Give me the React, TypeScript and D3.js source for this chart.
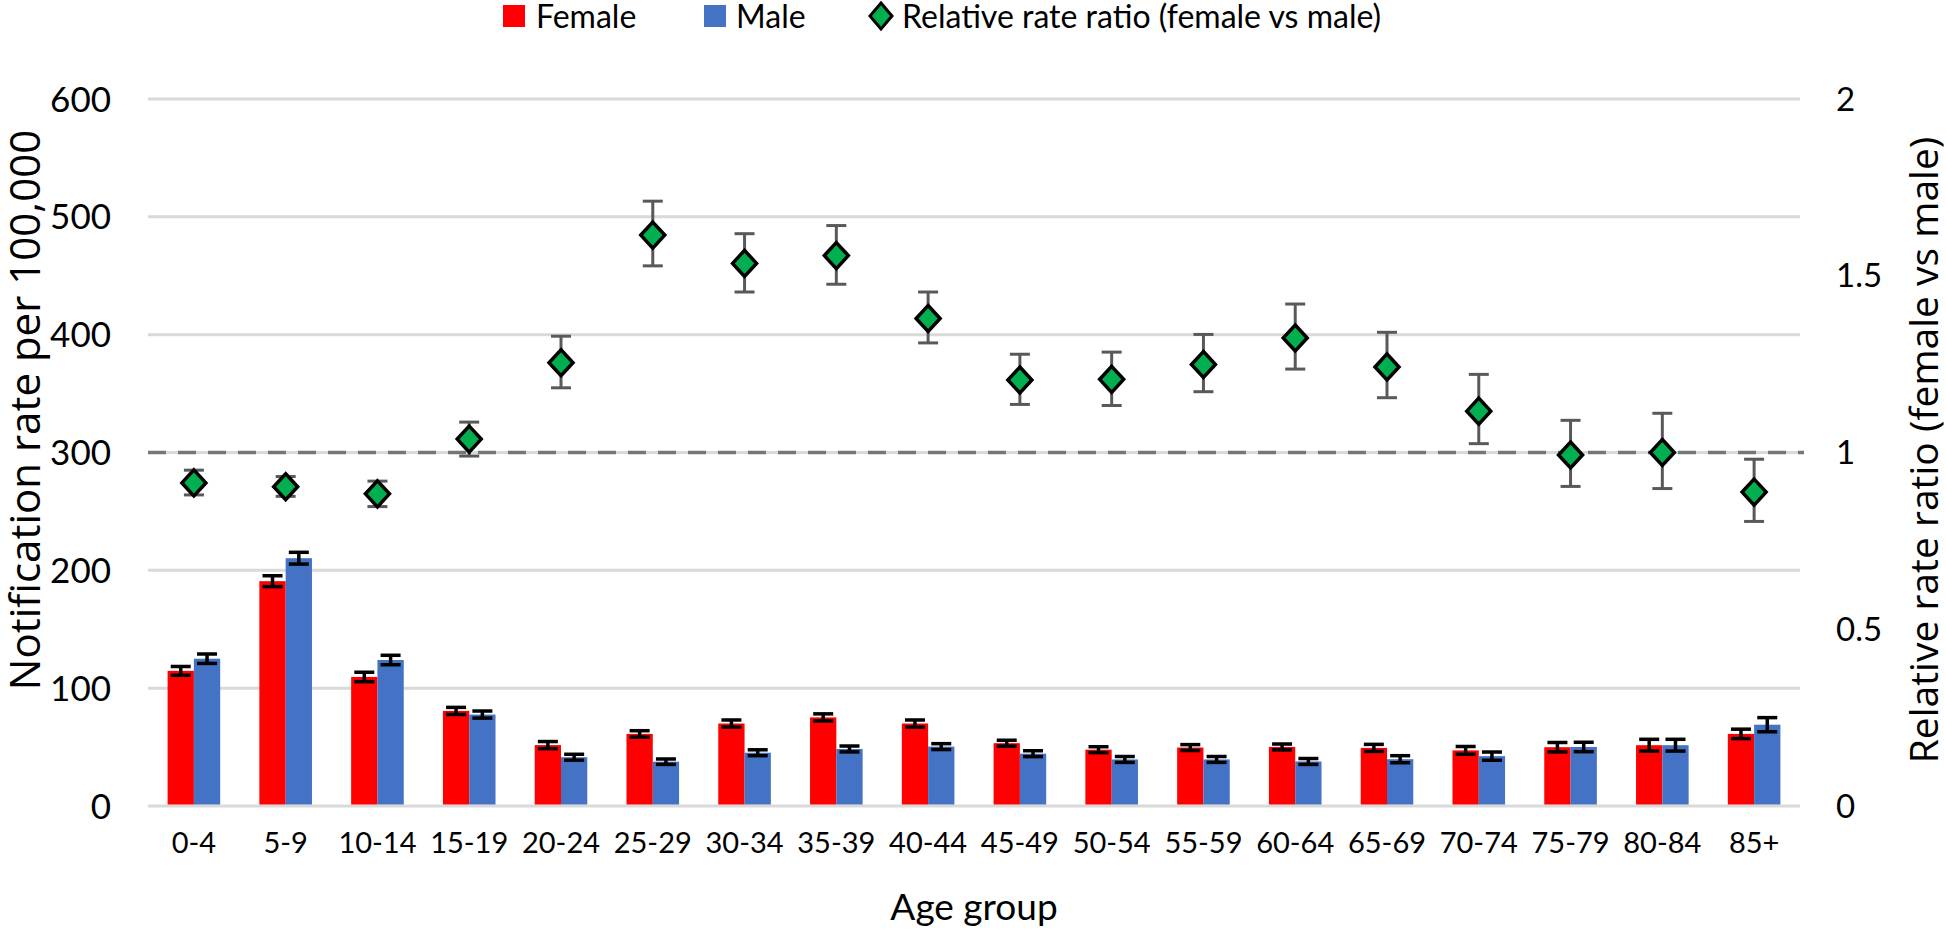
import React from "react";
import * as d3 from "d3";

const categories = ["0-4","5-9","10-14","15-19","20-24","25-29","30-34","35-39","40-44","45-49","50-54","55-59","60-64","65-69","70-74","75-79","80-84","85+"];
const female = [114.7,190.8,109.5,80.7,51.7,61.2,70,75.2,70,53.3,47.8,49.6,50.1,49.3,47.2,49.9,51.6,61.2];
const femaleErr = [3.7,4.6,4,3,3,2.7,3,3,3,2.5,2.5,2.5,2.5,3,3.3,4,5,4];
const male = [125,210.3,123.9,77.6,41.4,37.6,45.2,48.4,50.4,44.4,39.5,39.5,37.8,39.7,42.3,50.1,51.6,69];
const maleErr = [4,5,4,3,2.5,2.3,2.5,2.5,2.5,2.5,2.5,2.5,2.5,3,3.5,4,5,6];
const ratio = [0.914,0.903,0.883,1.038,1.254,1.615,1.535,1.557,1.379,1.205,1.207,1.249,1.324,1.242,1.117,0.993,1.0,0.888];
const ratioLow = [0.88,0.876,0.847,0.99,1.183,1.528,1.454,1.476,1.31,1.136,1.133,1.172,1.236,1.155,1.025,0.904,0.898,0.805];
const ratioHigh = [0.95,0.932,0.919,1.086,1.329,1.711,1.619,1.642,1.454,1.278,1.284,1.334,1.42,1.34,1.221,1.091,1.111,0.981];
const leftTicks = [0,100,200,300,400,500,600];
const rightTicks = [0,0.5,1,1.5,2];
const rightTickLabels = ["0","0.5","1","1.5","2"];
const seriesNames = ["Female","Male","Relative rate ratio (female vs male)"];
const colors = { female: "#ff0000", male: "#4472c4", ratio: "#00b050" };

const W = 1946, H = 931;
const left = 148, right = 1800, top = 99, bottom = 806;
const tickFont = "Lato, 'Open Sans', sans-serif";
const titleFont = "'Open Sans', 'Noto Sans', sans-serif";

export default function App() {
  const pInner = 0.427;
  const x = d3.scaleBand<string>().domain(categories).range([left, right]).paddingInner(pInner).paddingOuter(pInner / 2);
  const sub = d3.scaleBand<string>().domain(["F", "M"]).range([0, x.bandwidth()]);
  const y = d3.scaleLinear().domain([0, 600]).range([bottom, top]);
  const y2 = d3.scaleLinear().domain([0, 2]).range([bottom, top]);
  const bw = sub.bandwidth();
  const cx = (c: string) => (x(c) as number) + x.bandwidth() / 2;

  const errBar = (xc: number, lo: number, hi: number, color: string, sw: number, cap: number, key: string) => (
    <g key={key} stroke={color} strokeWidth={sw}>
      <line x1={xc} x2={xc} y1={lo} y2={hi} />
      <line x1={xc - cap / 2} x2={xc + cap / 2} y1={lo} y2={lo} />
      <line x1={xc - cap / 2} x2={xc + cap / 2} y1={hi} y2={hi} />
    </g>
  );

  const diamond = (xc: number, yc: number, hw: number, hh: number) =>
    `M${xc},${yc - hh}L${xc + hw},${yc}L${xc},${yc + hh}L${xc - hw},${yc}Z`;

  return (
    <svg width={W} height={H} style={{ position: "absolute", left: 0, top: 0, background: "#fff" }}>
      <rect width={W} height={H} fill="#fff" />
      {leftTicks.map((t) => (
        <line key={"g" + t} x1={left} x2={right} y1={y(t)} y2={y(t)} stroke="#d9d9d9" strokeWidth={3} />
      ))}
      <line x1={left} x2={right + 4} y1={y2(1)} y2={y2(1)} stroke="#767676" strokeWidth={3.5} strokeDasharray="18,12" />
      {categories.map((c, i) => {
        const x0 = x(c) as number;
        const xf = x0 + (sub("F") as number);
        const xm = x0 + (sub("M") as number);
        return (
          <g key={"b" + c}>
            <rect x={xf} y={y(female[i])} width={bw} height={y(0) - 1.5 - y(female[i])} fill={colors.female} />
            <rect x={xm} y={y(male[i])} width={bw} height={y(0) - 1.5 - y(male[i])} fill={colors.male} />
            {errBar(xf + bw / 2, y(female[i] - femaleErr[i]), y(female[i] + femaleErr[i]), "#000", 3.5, 20, "ef" + i)}
            {errBar(xm + bw / 2, y(male[i] - maleErr[i]), y(male[i] + maleErr[i]), "#000", 3.5, 20, "em" + i)}
          </g>
        );
      })}
      {categories.map((c, i) => errBar(cx(c), y2(ratioLow[i]), y2(ratioHigh[i]), "#595959", 3, 20, "er" + i))}
      {categories.map((c, i) => (
        <path key={"d" + c} d={diamond(cx(c), y2(ratio[i]), 12, 13)} fill={colors.ratio} stroke="#000" strokeWidth={3.5} strokeLinejoin="miter" />
      ))}
      {leftTicks.map((t) => (
        <text key={"lt" + t} x={111} y={y(t) + 12.5} textAnchor="end" fontFamily={tickFont} fontSize={35} fill="#000">{t}</text>
      ))}
      {rightTicks.map((t, i) => (
        <text key={"rt" + t} x={1836} y={y2(t) + 11.5} textAnchor="start" fontFamily={tickFont} fontSize={33} fill="#000">{rightTickLabels[i]}</text>
      ))}
      {categories.map((c) => (
        <text key={"xl" + c} x={cx(c)} y={853} textAnchor="middle" fontFamily={tickFont} fontSize={29} fill="#000">{c}</text>
      ))}
      <text x={974} y={920} textAnchor="middle" fontFamily={tickFont} fontSize={37} fill="#000">Age group</text>
      <text transform="translate(40,410) rotate(-90)" textAnchor="middle" fontFamily={titleFont} fontSize={42} fill="#000">Notification rate per 100,000</text>
      <text transform="translate(1938,450) rotate(-90)" textAnchor="middle" fontFamily={titleFont} fontSize={39} fill="#000">Relative rate ratio (female vs male)</text>
      <g fontFamily={tickFont} fontSize={32} fill="#000">
        <rect x={503} y={5} width={22} height={22} fill={colors.female} />
        <text x={536} y={28}>{seriesNames[0]}</text>
        <rect x={704} y={5} width={22} height={22} fill={colors.male} />
        <text x={736} y={28}>{seriesNames[1]}</text>
        <path d={diamond(881, 16, 11, 13)} fill={colors.ratio} stroke="#000" strokeWidth={3} />
        <text x={902} y={28}>{seriesNames[2]}</text>
      </g>
    </svg>
  );
}
